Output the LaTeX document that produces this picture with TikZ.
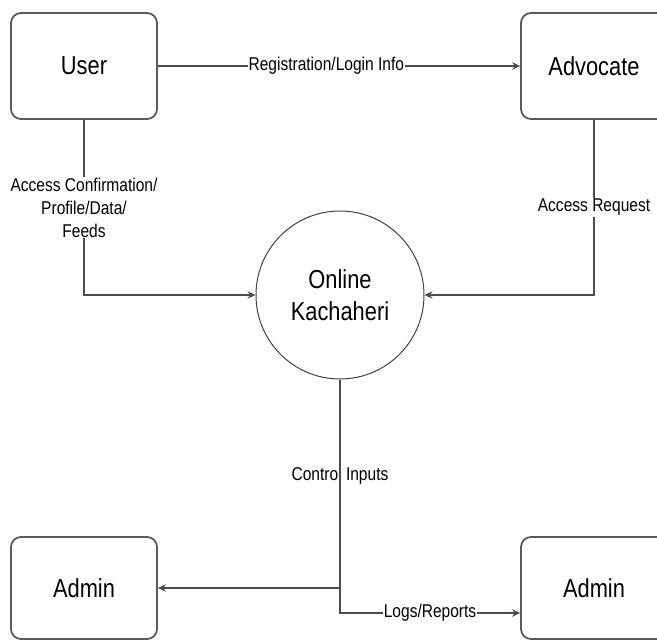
\documentclass[tikz,border=0pt]{standalone}
\usepackage{fontspec}
\setmainfont[FakeStretch=0.84]{Liberation Sans}
\usetikzlibrary{arrows.meta}

\tikzset{
  entity/.style={draw=black!65, line width=1.8pt, rounded corners=10pt, minimum width=146pt, minimum height=106pt, font=\fontsize{26}{30}\selectfont},
  process/.style={draw=black!75, line width=1pt, circle, minimum size=168pt, align=center, font=\fontsize{26}{32}\selectfont},
  flow/.style={draw=black!70, line width=1.3pt, -{Stealth[length=8pt,width=7.5pt]}},
  lbl/.style={fill=white, inner sep=1pt, align=center, font=\fontsize{18.5}{23}\selectfont}
}

\begin{document}
\begin{tikzpicture}[x=1pt, y=-1pt]
\useasboundingbox (0,0) rectangle (657,640);
\node[entity] (user) at (84,66) {User};
\node[entity] (advocate) at (594,66) {Advocate};
\node[process] (kachaheri) at (340,295) {Online\\Kachaheri};
\node[entity, minimum height=102pt] (adminL) at (84,588) {Admin};
\node[entity, minimum height=102pt] (adminR) at (594,588) {Admin};
\draw[flow] (user) -- node[lbl, pos=0.465] {Registration/Login Info} (advocate);
\draw[flow] (user.south) |- node[lbl, pos=0.25] {Access Confirmation/\\Profile/Data/\\Feeds} (kachaheri.west);
\draw[flow] (advocate.south) |- node[lbl, pos=0.25] {Access Request} (kachaheri.east);
\draw[flow] (kachaheri.south) |- node[lbl, pos=0.23] {Control Inputs} (adminL.east);
\draw[flow] (kachaheri.south) |- node[lbl, pos=0.75] {Logs/Reports} ([yshift=-25pt]adminR.west);
\end{tikzpicture}
\end{document}
